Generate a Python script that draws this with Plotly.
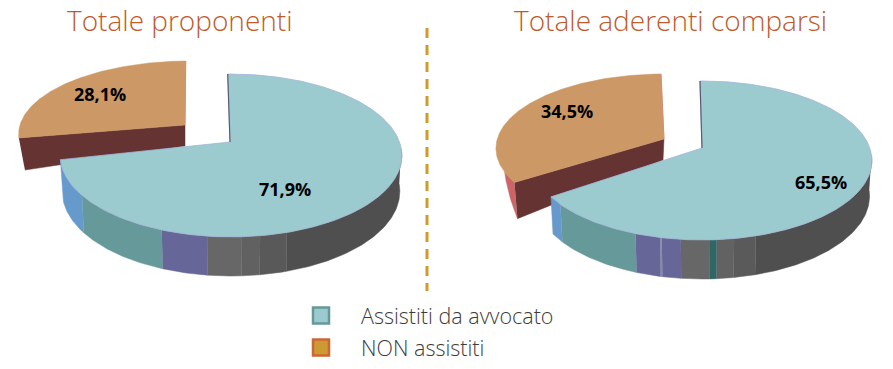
import math
import plotly.graph_objects as go

# ---- data ----
CATEGORIES = ["Assistiti da avvocato", "NON assistiti"]
TITLE_LEFT = "Totale proponenti"
TITLE_RIGHT = "Totale aderenti comparsi"
VALUES_LEFT = [71.9, 28.1]
VALUES_RIGHT = [65.5, 34.5]
LABELS_LEFT = ["71,9%", "28,1%"]
LABELS_RIGHT = ["65,5%", "34,5%"]
# side-wall shading bands of the large slice: band end angle (deg, clockwise from top), colour
BAND_ANGLES_LEFT = [163.8, 171.7, 176.9, 186.8, 200.3, 232.7, 257.6]
BAND_COLORS_LEFT = ["#4f4f4f", "#595959", "#616161", "#676767", "#666699", "#669999", "#6699cc"]
BAND_ANGLES_RIGHT = [164.2, 170.7, 175.8, 177.7, 186.1, 191.7, 192.2, 199.7, 229.2, 235.0]
BAND_COLORS_RIGHT = ["#4f4f4f", "#5a5a5a", "#626262", "#2f6666", "#676767", "#666699", "#8a8aa8", "#666699", "#669999", "#6699cc"]

COL_TOP = ["#9bcbcf", "#cc9966"]
COL_FACE = "#663333"
COL_RIM = "#a3b4d8"
COL_TITLE = "#bf5a2b"
COL_TEXT = "#3c3c3c"
COL_DASH = "#d09a2c"


def rim(theta, g):
    t = math.radians(theta)
    u, v = math.sin(t), -math.cos(t)
    d = 1 + g["k"] * v
    return (g["c"] + g["a"] * u / d, (g["f"] + g["e"] * v) / d)


def arc(t0, t1, g, n=None):
    n = n or max(2, int(abs(t1 - t0) * 1.5))
    pts = [rim(t0 + (t1 - t0) * i / n, g) for i in range(n + 1)]
    return [p[0] for p in pts], [p[1] for p in pts]


fig = go.Figure()


def poly(xs, ys, fill, line=None, width=0):
    fig.add_trace(go.Scatter(
        x=xs, y=ys, mode="lines", fill="toself", fillcolor=fill,
        line=dict(color=line or fill, width=width if line else 0.5),
        hoverinfo="skip", showlegend=False))


def wall(t0, t1, top, bot, color):
    xa, ya = arc(t0, t1, top)
    xb, yb = arc(t1, t0, bot)
    poly(xa + xb, ya + yb, color)


def tapered_wall(t0, t1, top, bot, color):
    # wall that narrows to nothing at t1, where it disappears behind the rim
    xa, ya = arc(t0, t1, top)
    xb, yb = arc(t0, t1, bot)
    n = len(xa) - 1
    lx, ly = [], []
    for i in range(n + 1):
        w = (1 - i / n) ** 0.6
        lx.append(xa[i] + (xb[i] - xa[i]) * w)
        ly.append(ya[i] + (yb[i] - ya[i]) * w)
    poly(xa + lx[::-1], ya + ly[::-1], color)


def pie(values, start, big_top, big_bot, big_apex, small_top, small_apex, small_apex_low, small_low,
        band_angles, band_colors, small_walls):
    big_end = start + values[0] * 3.6
    small_end = big_end + values[1] * 3.6

    # exploded slice: walls, face, top
    for t0, t1, col in small_walls:
        tapered_wall(t0, t1, small_top, small_low, col)
    ex, ey = rim(big_end, small_top)
    lx, ly = rim(big_end, small_low)
    poly([ex, small_apex[0], small_apex_low[0], lx], [ey, small_apex[1], small_apex_low[1], ly], COL_FACE)
    xs, ys = arc(big_end, small_end, small_top)
    poly([small_apex[0]] + xs + [small_apex[0]], [small_apex[1]] + ys + [small_apex[1]], COL_TOP[1])
    fig.add_trace(go.Scatter(x=[xs[-1], small_apex[0]], y=[ys[-1], small_apex[1]], mode="lines",
                             line=dict(color="#d98a7a", width=1), hoverinfo="skip", showlegend=False))

    # large slice: walls then top
    prev = start + 96
    for end, col in zip(band_angles, band_colors):
        wall(prev, end, big_top, big_bot, col)
        prev = end
    xs, ys = arc(start, big_end, big_top)
    poly([big_apex[0]] + xs + [big_apex[0]], [big_apex[1]] + ys + [big_apex[1]], COL_TOP[0], COL_RIM, 0.8)
    fig.add_trace(go.Scatter(x=[xs[0], big_apex[0]], y=[ys[0], big_apex[1]], mode="lines",
                             line=dict(color="#5a5a78", width=1.2), hoverinfo="skip", showlegend=False))


pie(VALUES_LEFT, -1.3,
    dict(c=231, a=168.5, k=-0.1656, e=55.7, f=142),
    dict(c=231, a=166.5, k=-0.1656, e=53, f=177.3),
    (230, 142),
    dict(c=189, a=168, k=-0.1656, e=50.9, f=122),
    (185, 125), (185, 146),
    dict(c=192, a=165, k=-0.1656, e=50.9, f=153),
    BAND_ANGLES_LEFT, BAND_COLORS_LEFT, [])

pie(VALUES_RIGHT, -0.8,
    dict(c=702, a=167.8, k=-0.157, e=54.3, f=148),
    dict(c=702, a=165.5, k=-0.157, e=52, f=183.2),
    (702, 148),
    dict(c=663, a=165, k=-0.157, e=51.1, f=136.7),
    (664, 139), (663, 160),
    dict(c=663, a=161.7, k=-0.157, e=51.1, f=169.7),
    BAND_ANGLES_RIGHT, BAND_COLORS_RIGHT,
    [(235, 243, "#cc6666")])

# dashed divider
fig.add_trace(go.Scatter(x=[427, 427], y=[28, 291], mode="lines",
                         line=dict(color=COL_DASH, width=3, dash="10px,7px"),
                         hoverinfo="skip", showlegend=False))

# legend entries
for name, fill, edge in zip(CATEGORIES, ["#9bcbcf", "#cc9933"], ["#669999", "#cc6633"]):
    fig.add_trace(go.Scatter(x=[None], y=[None], mode="markers", name=name, legendgroup=name,
                             marker=dict(symbol="square", size=16, color=fill, line=dict(color=edge, width=2.5))))

ann = []
for txt, x, y in [(LABELS_LEFT[0], 285, 189), (LABELS_LEFT[1], 100, 94),
                  (LABELS_RIGHT[0], 821, 182), (LABELS_RIGHT[1], 567, 111)]:
    ann.append(dict(x=x, y=y, text=txt, showarrow=False, xanchor="center", yanchor="middle",
                    font=dict(family="Open Sans", size=18, color="#000000", weight="bold")))
for txt, x, y in [(TITLE_LEFT, 180, 20), (TITLE_RIGHT, 670, 20)]:
    ann.append(dict(x=x, y=y, text=txt, showarrow=False, xanchor="center", yanchor="middle",
                    font=dict(family="Open Sans", size=28, color=COL_TITLE, weight=300)))

fig.update_layout(
    width=893, height=369, margin=dict(l=0, r=0, t=0, b=0),
    paper_bgcolor="#ffffff", plot_bgcolor="#ffffff",
    xaxis=dict(range=[0, 893], visible=False, fixedrange=True),
    yaxis=dict(range=[369, 0], visible=False, fixedrange=True),
    annotations=ann,
    legend=dict(x=281 / 893, y=1 - 295 / 369, xanchor="left", yanchor="top",
                font=dict(family="Open Sans", size=21.5, color=COL_TEXT, weight=300),
                itemwidth=70, tracegroupgap=1, bgcolor="rgba(0,0,0,0)"),
    showlegend=True,
)

fig.write_html("out.html", config=dict(displayModeBar=False),
               post_script="document.body.style.margin='0';")
